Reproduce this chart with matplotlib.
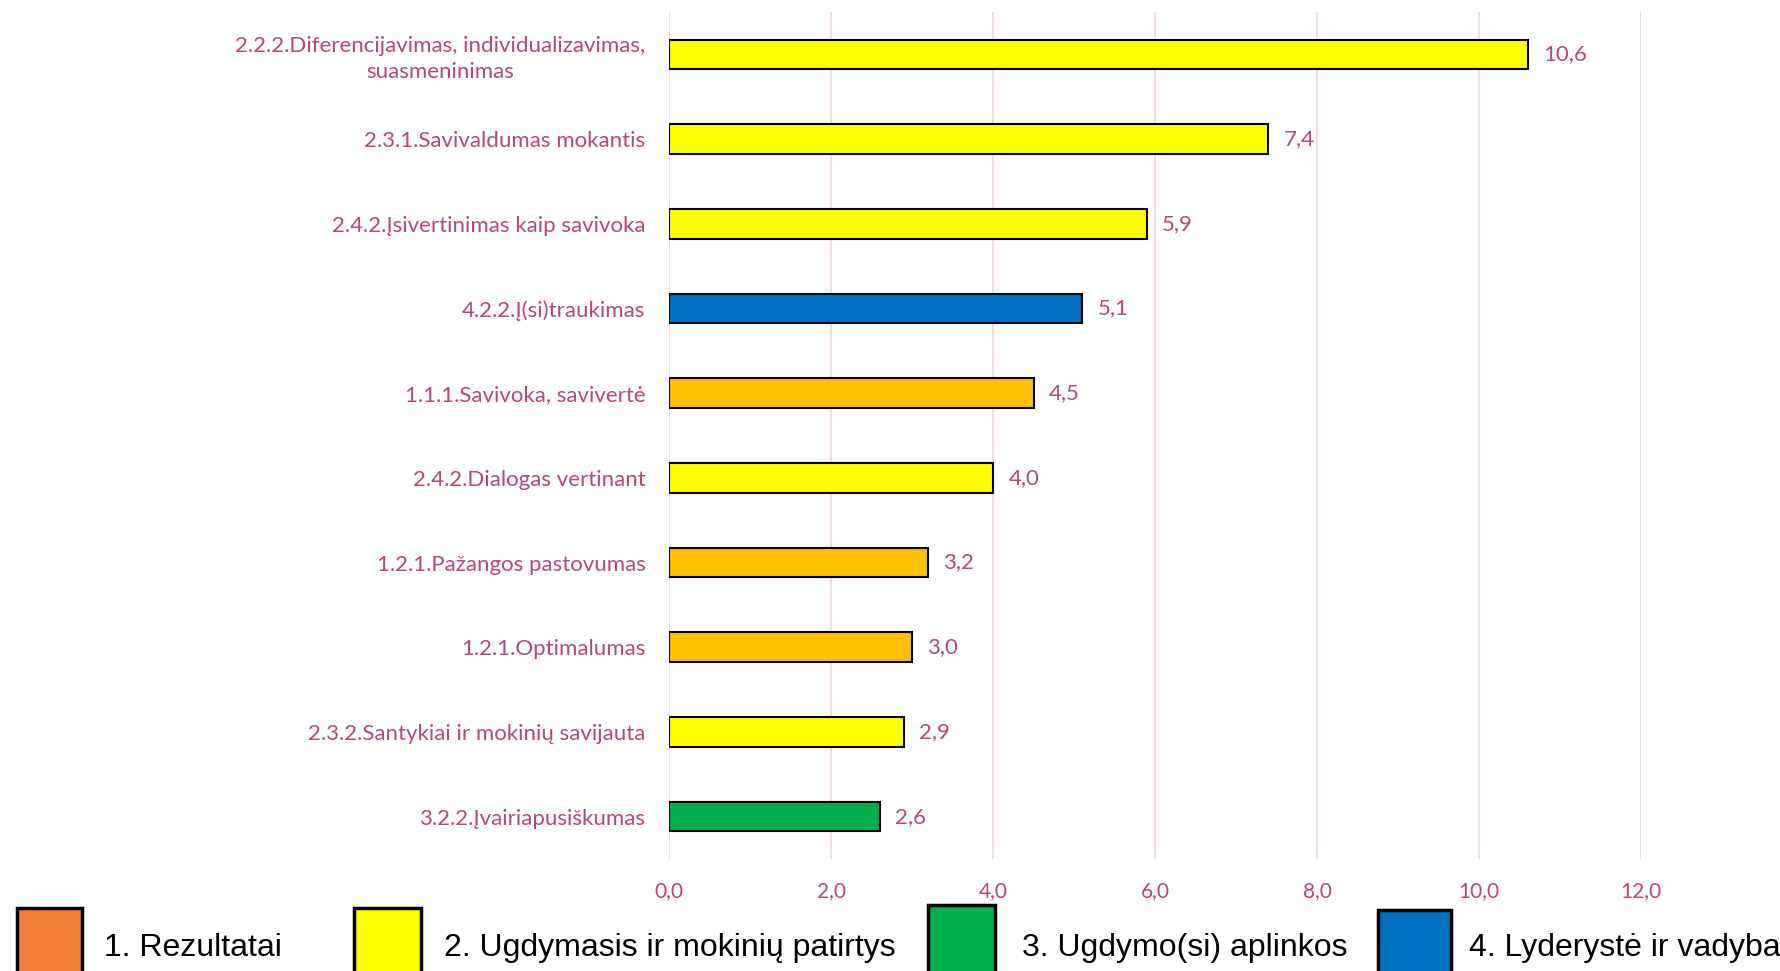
import matplotlib.pyplot as plt
from matplotlib.patches import Rectangle

labels = [
    "2.2.2.Diferencijavimas, individualizavimas,\nsuasmeninimas",
    "2.3.1.Savivaldumas mokantis",
    "2.4.2.Įsivertinimas kaip savivoka",
    "4.2.2.Į(si)traukimas",
    "1.1.1.Savivoka, savivertė",
    "2.4.2.Dialogas vertinant",
    "1.2.1.Pažangos pastovumas",
    "1.2.1.Optimalumas",
    "2.3.2.Santykiai ir mokinių savijauta",
    "3.2.2.Įvairiapusiškumas",
]
values = [10.6, 7.4, 5.9, 5.1, 4.5, 4.0, 3.2, 3.0, 2.9, 2.6]
bar_colors = ["#FFFF00", "#FFFF00", "#FFFF00", "#0070C0", "#FFC000",
              "#FFFF00", "#FFC000", "#FFC000", "#FFFF00", "#00B050"]

legend_names = ["1. Rezultatai", "2. Ugdymasis ir mokinių patirtys",
                "3. Ugdymo(si) aplinkos", "4. Lyderystė ir vadyba"]
legend_colors = ["#ED7D31", "#FFFF00", "#00B050", "#0070C0"]

txt_color = "#B5467E"
grid_color = "#EDD3DE"
plt.rcParams["font.family"] = ["Lato", "DejaVu Sans"]

W, H = 1780, 971
fig = plt.figure(figsize=(W / 100, H / 100), dpi=100)
ax = fig.add_axes([669 / W, 1 - 859 / H, (1641 - 669) / W, (859 - 12) / H])

y = list(range(len(values)))
ax.barh(y, values, height=0.35, color=bar_colors, edgecolor="black", linewidth=1.5, zorder=3)
for yi, v in zip(y, values):
    ax.annotate(f"{v:.1f}".replace(".", ","), (v, yi), xytext=(11, 0),
                textcoords="offset points", va="center", ha="left",
                color=txt_color, fontsize=16)

ax.set_xlim(0, 12)
ax.set_ylim(len(values) - 0.5, -0.5)
ax.set_xticks(range(0, 13, 2))
ax.set_xticklabels([f"{t:.1f}".replace(".", ",") for t in range(0, 13, 2)])
ax.set_yticks(y)
ax.set_yticklabels(labels, multialignment="center", linespacing=1.35)
ax.tick_params(axis="y", length=0, pad=17, labelsize=16, labelcolor=txt_color)
ax.tick_params(axis="x", length=0, pad=16, labelsize=15, labelcolor=txt_color)
ax.grid(axis="x", color=grid_color, linewidth=1.2, zorder=0)
for s in ax.spines.values():
    s.set_visible(False)

# legend boxes along the bottom (cut off by the figure edge)
box_x = [17, 354, 928, 1378]
box_w = [65, 67, 67, 73]
box_top = [908, 908, 905, 910]
text_x = [104, 444, 1022, 1469]
for name, c, bx, bw, bt, tx in zip(legend_names, legend_colors, box_x, box_w, box_top, text_x):
    fig.add_artist(Rectangle((bx / W, 1 - (bt + 80) / H), bw / W, 80 / H,
                             transform=fig.transFigure, facecolor=c,
                             edgecolor="black", linewidth=2.5))
    fig.text(tx / W, 1 - 948 / H, name, fontsize=23, va="center", ha="left",
             fontfamily="Liberation Sans")

fig.savefig("out.png", dpi=100)
